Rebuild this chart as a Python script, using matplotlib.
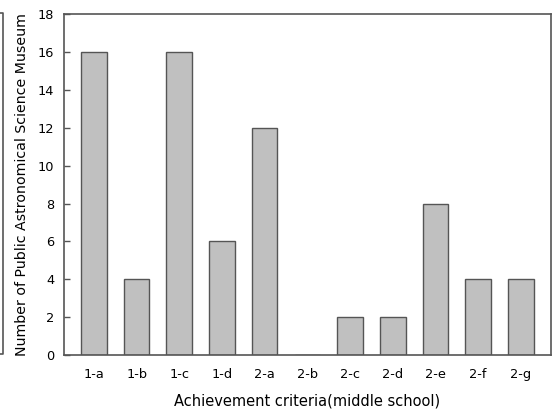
import matplotlib
matplotlib.use("Agg")
import matplotlib.pyplot as plt
from matplotlib.lines import Line2D

plt.rcParams['font.family'] = ['DejaVu Sans']

categories = ["1-a", "1-b", "1-c", "1-d", "2-a", "2-b", "2-c", "2-d", "2-e", "2-f", "2-g"]
counts = [16, 4, 16, 6, 12, 0, 2, 2, 8, 4, 4]
y_ticks = [0, 2, 4, 6, 8, 10, 12, 14, 16, 18]

spine_color = "#555555"

fig = plt.figure(figsize=(5.52, 4.12), dpi=100)
ax = fig.add_axes([0.116, 0.138, 0.8816, 0.828])

x = range(len(categories))
ax.bar(x, counts, width=0.6, color="#c0c0c0", edgecolor="#555555", linewidth=1.0)

ax.set_xlim(-0.7, len(categories) - 0.3)
ax.set_ylim(0, 18)
ax.set_yticks(y_ticks)
ax.set_xticks(list(x))
ax.set_xticklabels(categories)

ax.tick_params(axis="y", direction="in", length=4, width=1, color=spine_color,
               labelsize=9.3, pad=7)
ax.tick_params(axis="x", length=0, labelsize=9.3, pad=9)

for s in ax.spines.values():
    s.set_color(spine_color)
    s.set_linewidth(1.2)

ax.set_xlabel("Achievement criteria(middle school)", fontsize=10.5, labelpad=9)
ax.set_ylabel("Number of Public Astronomical Science Museum", fontsize=10.2, labelpad=6)

# edge of the neighbouring panel on the far left
fig.add_artist(Line2D([0.0, 0.0055, 0.0055, 0.0], [0.968, 0.968, 0.14, 0.14],
                      transform=fig.transFigure, color=spine_color, linewidth=1.2))

fig.savefig("out.png", dpi=100)
